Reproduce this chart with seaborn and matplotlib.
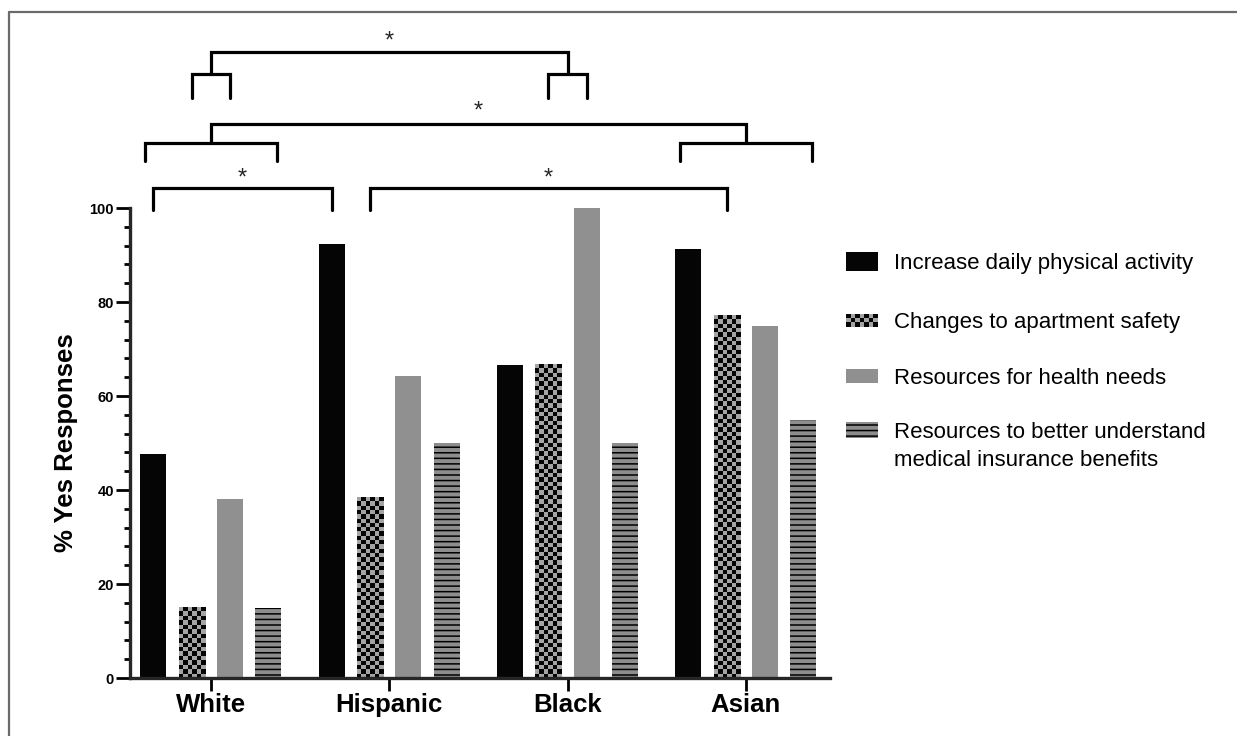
import matplotlib.pyplot as plt
import matplotlib.ticker as mticker
from matplotlib.patches import Rectangle
from matplotlib.lines import Line2D
import seaborn as sns
import pandas as pd
import numpy as np

sns.set_theme(style="ticks")
plt.rcParams["font.family"] = ["Liberation Sans", "DejaVu Sans"]
plt.rcParams["hatch.linewidth"] = 1.1

W, H = 1237, 736

groups = ["White", "Hispanic", "Black", "Asian"]
categories = [
    "Increase daily physical activity",
    "Changes to apartment safety",
    "Resources for health needs",
    "Resources to better understand\nmedical insurance benefits",
]
activity = [47.6, 92.3, 66.7, 91.2]
safety = [15.0, 38.5, 66.7, 77.2]
health = [38.1, 64.3, 100.0, 75.0]
insurance = [15.0, 50.0, 50.0, 55.0]

BLACK = "#050505"
CHECK_LIGHT = "#a4a4a4"
GRAY = "#909090"
STRIPE_BG = "#8d8d8d"

df = pd.DataFrame({
    "group": groups * 4,
    "category": [c for c in categories for _ in groups],
    "value": activity + safety + health + insurance,
})

fig = plt.figure(figsize=(W / 100, H / 100), dpi=100)
ax = fig.add_axes([130 / W, 1 - 678 / H, 700 / W, 470 / H])

WIDTH = 0.86
sns.barplot(data=df, x="group", y="value", hue="category", order=groups,
            hue_order=categories, palette=[BLACK, CHECK_LIGHT, GRAY, STRIPE_BG],
            width=WIDTH, gap=0.32, errorbar=None, saturation=1, legend=False,
            ax=ax)
for p in ax.patches:
    p.set_linewidth(0)

XLIM = (-0.454, 3.472)
ax.set_xlim(*XLIM)
ax.set_ylim(0, 100)


def checker(n_rows, n_cols):
    grid = np.add.outer(np.arange(n_rows), np.arange(n_cols)) % 2
    dark = np.array(plt.matplotlib.colors.to_rgb(BLACK))
    light = np.array(plt.matplotlib.colors.to_rgb(CHECK_LIGHT))
    return np.where(grid[..., None] == 1, dark, light)


# checkerboard texture on the "apartment safety" bars
CELL = 4.33
for p in ax.containers[1]:
    x0, w, h = p.get_x(), p.get_width(), p.get_height()
    (px0, py0), (px1, py1) = ax.transData.transform([(x0, 0), (x0 + w, h)])
    nc = max(1, round((px1 - px0) / CELL))
    nr = max(1, round((py1 - py0) / CELL))
    ax.imshow(checker(nr, nc)[::-1], extent=(x0, x0 + w, 0, h), origin="lower",
              interpolation="nearest", aspect="auto", zorder=p.get_zorder() + 0.1)

# horizontal stripes on the insurance bars
for p in ax.containers[3]:
    p.set_hatch("---")
    p.set_edgecolor("black")
    p.set_linewidth(0)

ax.set_xlim(*XLIM)
ax.set_ylim(0, 100)

# axes styling
sns.despine(ax=ax)
ax.spines["left"].set_linewidth(2.4)
ax.spines["bottom"].set_linewidth(2.4)
ax.spines["left"].set_bounds(0, 100)
ax.set_yticks(range(0, 101, 20))
ax.yaxis.set_minor_locator(mticker.MultipleLocator(4))
ax.tick_params(axis="y", which="major", length=10, width=2, pad=1.5,
               labelsize=10.5, color="black", labelcolor="black")
ax.tick_params(axis="y", which="minor", length=4.5, width=2, color="black")
ax.tick_params(axis="x", which="major", length=9, width=2, pad=2,
               labelsize=18.5, color="black", labelcolor="black")
for lab in ax.get_yticklabels() + ax.get_xticklabels():
    lab.set_fontweight("bold")
ax.set_xlabel("")
ax.set_ylabel("% Yes Responses", fontsize=18.5, fontweight="bold", color="black")
ax.yaxis.set_label_coords(-0.075, 0.5)

# significance brackets
slot = WIDTH / 4


def bar_x(g, k):
    return g + (k - 1.5) * slot


def bracket(x1, x2, y, drop):
    ax.plot([x1, x1, x2, x2], [y - drop, y, y, y - drop], color="black",
            lw=2.3, clip_on=False, solid_joinstyle="miter", zorder=5)


def star(x, y):
    ax.text(x, y, "*", ha="center", va="center", fontsize=17, clip_on=False)


# top row
bracket(bar_x(0, 1), bar_x(0, 2), 128.5, 5.0)
bracket(bar_x(2, 1), bar_x(2, 2), 128.5, 5.0)
bracket(0, 2, 133.2, 4.7)
star(1, 135.5)
# middle row
bracket(-0.37, 0.37, 113.8, 3.9)
bracket(3 - 0.37, 3 + 0.37, 113.8, 3.9)
bracket(0, 3, 117.9, 4.1)
star(1.5, 120.6)
# lower row
bracket(bar_x(0, 0), bar_x(1, 0), 104.3, 4.8)
star((bar_x(0, 0) + bar_x(1, 0)) / 2, 106.2)
bracket(bar_x(1, 1), bar_x(3, 1), 104.3, 4.8)
star((bar_x(1, 1) + bar_x(3, 1)) / 2, 106.2)


# legend drawn by hand so the patch sits beside the first text line
def fx(px):
    return px / W


def fy(py):
    return 1 - py / H


def patch_box(cy, h):
    return fx(846), fy(cy + h / 2), fx(878) - fx(846), h / H


rows = [261, 320, 376, 430]
heights = [19, 13, 14, 16]

x, y, w, h = patch_box(rows[0], heights[0])
fig.add_artist(Rectangle((x, y), w, h, transform=fig.transFigure,
                         facecolor=BLACK, lw=0))
x, y, w, h = patch_box(rows[1], heights[1])
nc, nr = 7, 3
for i in range(nr):
    for j in range(nc):
        fig.add_artist(Rectangle((x + j * w / nc, y + i * h / nr), w / nc, h / nr,
                                 transform=fig.transFigure, lw=0,
                                 facecolor=BLACK if (i + j) % 2 == 0 else CHECK_LIGHT))
x, y, w, h = patch_box(rows[2], heights[2])
fig.add_artist(Rectangle((x, y), w, h, transform=fig.transFigure,
                         facecolor=GRAY, lw=0))
x, y, w, h = patch_box(rows[3], heights[3])
fig.add_artist(Rectangle((x, y), w, h, transform=fig.transFigure,
                         facecolor=STRIPE_BG, edgecolor="black", lw=0, hatch="---"))

for cy, label in zip(rows, categories):
    for k, line in enumerate(label.split("\n")):
        fig.text(fx(894), fy(cy + 8 + 28 * k), line, fontsize=16, color="black",
                 ha="left", va="baseline")

# grey frame on the top and left edges
fig.add_artist(Line2D([fx(9), 1], [fy(12), fy(12)], transform=fig.transFigure,
                      color="#6b6b6b", lw=1.6))
fig.add_artist(Line2D([fx(9), fx(9)], [0, fy(12)], transform=fig.transFigure,
                      color="#6b6b6b", lw=1.6))

fig.savefig("out.png", dpi=100)
